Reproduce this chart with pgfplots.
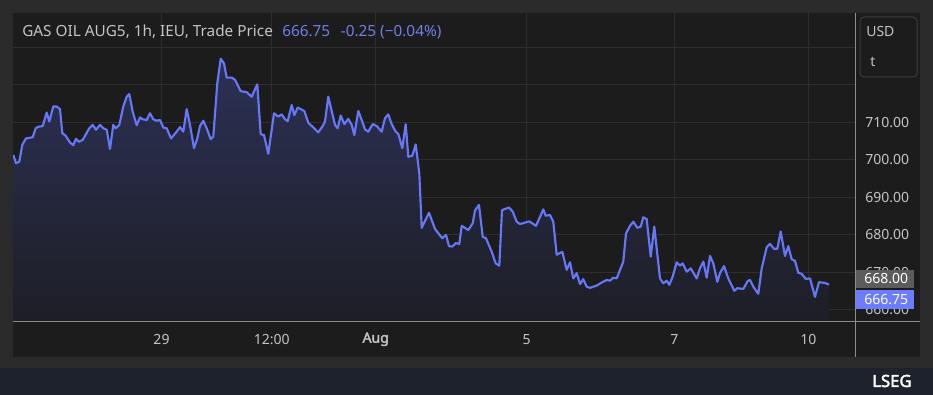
\documentclass[border=0pt]{standalone}
\usepackage{pgfplots}
\pgfplotsset{compat=1.18}
\usepackage{pgfplotstable}
\usetikzlibrary{calc}
\usepackage{fontspec}
\setmainfont{Noto Sans}[AutoFakeBold=2.5]
\definecolor{outerbg}{HTML}{2A2A2A}
\definecolor{panelbg}{HTML}{1C1C1C}
\definecolor{barbg}{HTML}{1E222D}
\definecolor{gridc}{HTML}{2E2E2E}
\definecolor{axisc}{HTML}{8C8C8C}
\definecolor{linec}{HTML}{6677F8}
\definecolor{txt}{HTML}{C4C4C4}
\definecolor{bluetxt}{HTML}{6F7FE8}
\definecolor{fillt}{HTML}{2C3156}
\definecolor{fillb}{HTML}{1D1E25}
\definecolor{graybox}{HTML}{5C5C5C}
\definecolor{bluebox}{HTML}{6B7CFF}
\definecolor{boxborder}{HTML}{3C3C3C}
\pgfdeclarelayer{bg}
\pgfsetlayers{bg,main}

\pgfplotstableread{
x y
13.3 701.3
16.0 699.1
19.3 699.5
22.3 704.0
26.0 705.7
32.7 706.0
35.7 708.4
38.3 708.8
42.7 709.0
46.7 712.6
49.3 710.2
53.3 714.2
56.7 714.2
60.0 713.5
62.3 707.1
65.7 706.4
70.0 704.6
73.3 703.9
76.0 705.6
79.0 704.8
82.7 705.3
89.3 708.4
92.7 709.3
96.0 708.0
100.0 709.3
103.3 708.4
106.7 708.0
110.0 702.9
113.3 709.3
115.7 708.4
119.3 709.3
123.3 714.2
126.7 716.8
129.3 717.5
132.7 712.8
136.7 709.2
140.0 711.3
142.7 710.8
146.7 710.6
150.0 712.4
153.3 710.8
156.7 710.4
160.0 710.6
163.3 708.6
166.7 708.4
171.0 705.7
176.7 707.5
180.0 708.7
183.3 707.5
186.7 713.5
190.0 709.3
194.0 703.1
197.3 705.7
200.0 709.0
203.3 710.4
206.7 708.4
210.7 705.5
213.3 706.2
217.3 720.4
220.7 726.9
224.0 725.7
226.7 721.9
231.7 721.9
235.0 721.3
240.7 718.3
246.7 718.0
251.7 716.8
254.0 718.2
257.3 720.1
260.7 706.8
264.0 706.6
268.3 701.6
274.0 712.4
278.3 711.5
281.7 712.1
285.0 710.8
287.7 710.3
291.7 714.6
294.3 711.9
297.7 713.9
304.3 713.0
308.3 709.9
318.3 707.3
322.7 709.0
325.0 710.2
328.3 716.8
335.0 709.3
337.7 708.4
340.7 711.8
344.3 709.5
348.3 710.9
351.7 709.3
354.3 706.6
358.3 713.0
361.7 710.6
365.0 708.1
368.3 707.5
372.7 709.5
376.7 709.0
381.7 707.5
385.0 711.1
388.3 712.1
391.7 709.5
395.7 707.5
398.3 706.9
402.3 703.1
405.7 709.5
408.3 700.8
412.3 701.1
415.7 704.1
419.3 696.4
421.7 681.9
429.0 685.9
435.0 681.6
439.0 680.2
442.3 679.1
446.0 680.0
449.0 677.0
452.3 676.9
455.7 677.8
459.3 677.6
461.7 682.4
468.3 681.3
472.7 683.1
475.0 686.5
479.0 688.0
482.7 679.5
486.0 679.1
491.7 675.5
495.7 672.4
499.3 671.8
502.0 686.6
509.0 687.3
512.7 686.2
516.7 683.5
520.0 682.9
529.3 683.6
536.0 682.4
543.3 686.8
545.7 685.1
550.0 685.3
553.3 683.5
556.7 674.7
562.3 675.5
566.7 670.7
570.0 672.7
573.3 668.4
576.7 669.8
580.0 666.9
583.3 668.2
586.7 666.2
590.0 665.9
596.7 666.5
601.7 667.3
606.7 668.0
610.0 667.8
613.3 668.6
616.7 668.4
623.3 672.9
626.0 680.4
630.0 682.4
633.3 683.5
637.3 681.9
640.7 682.2
643.3 684.7
646.7 684.2
650.7 674.2
654.3 682.2
660.0 668.4
663.3 667.1
666.7 667.8
669.3 666.7
672.7 668.9
676.7 672.7
680.0 671.8
682.7 672.4
686.7 670.2
690.7 671.1
696.7 668.4
700.0 671.1
703.3 672.9
706.7 668.6
710.0 674.4
713.3 672.4
717.3 667.5
720.0 669.8
724.0 671.7
728.3 668.4
734.3 665.1
737.3 665.8
743.3 665.6
747.7 667.7
750.0 668.0
753.3 666.2
758.3 664.3
761.7 671.1
766.7 676.7
770.0 677.6
774.0 676.3
777.3 676.3
780.7 680.9
785.0 674.4
788.3 677.0
791.7 673.5
795.0 673.1
798.3 669.9
801.7 669.6
805.7 668.3
810.0 668.4
815.0 663.5
819.0 667.4
825.0 667.2
829.0 666.75
}\gasoil

\begin{document}
\begin{tikzpicture}
\begin{axis}[
  scale only axis, width=631.5pt, height=231.75pt,
  xmin=13, xmax=855, ymin=656.8, ymax=739.1,
  axis line style={draw=none},
  tick style={draw=none},
  major tick length=0pt,
  grid=major,
  grid style={gridc, line width=0.75pt},
  xtick={161.5,271.7,375.7,526.7,674.3,808.3},
  xticklabels={29,12:00,{\bfseries Aug},5,7,10},
  ytick={660,670,680,690,700,710,720,730},
  yticklabels={660.00,670.00,680.00,690.00,700.00,710.00,,},
  yticklabel pos=right,
  ticklabel style={font=\fontsize{10.5}{12}\selectfont, text=txt},
  xticklabel style={anchor=center, inner sep=0pt, yshift=-13pt},
  yticklabel style={anchor=west, inner sep=0pt, xshift=7.5pt},
  clip=true,
]
\coordinate (o) at (rel axis cs:0,0);
\addplot[draw=none, top color=fillt, bottom color=fillb]
  table[x=x, y=y]{\gasoil} -- (axis cs:829,656.8) -- (axis cs:13.3,656.8) -- cycle;
\addplot[linec, line width=1.6pt, line join=round, mark=none] table[x=x, y=y]{\gasoil};
\end{axis}
\begin{scope}[shift={(o)}, x=0.75pt, y=0.75pt, shift={(-13,-73)}]
\begin{pgfonlayer}{bg}
\fill[outerbg] (0,0) rectangle (933,395);
\fill[panelbg] (13,38) rectangle (920,382);
\fill[barbg] (0,0) rectangle (933,27);
\end{pgfonlayer}
\draw[axisc, line width=0.75pt] (13,73) -- (920,73);
\draw[axisc, line width=0.75pt] (855,382) -- (855,38);
% price boxes
\fill[graybox] (856,107) rectangle (914,125);
\node[text=white, font=\fontsize{10.5}{12}\selectfont, anchor=west, inner sep=0pt] at (864,116) {668.00};
\fill[bluebox] (856,86) rectangle (914,105);
\node[text=white, font=\fontsize{10.5}{12}\selectfont, anchor=west, inner sep=0pt] at (864,95.5) {666.75};
% USD box
\draw[boxborder, fill=panelbg, rounded corners=3pt, line width=0.75pt] (860,318) rectangle (917,378);
\node[text=txt, font=\fontsize{10.5}{12}\selectfont, anchor=west, inner sep=0pt] at (866,363) {USD};
\node[text=txt, font=\fontsize{10.5}{12}\selectfont, anchor=west, inner sep=0pt] at (870,333) {t};
% title
\node[text=txt, font=\fontsize{11.5}{13}\selectfont, anchor=west, inner sep=0pt] at (22,363) {GAS OIL AUG5, 1h, IEU, Trade Price};
\node[text=bluetxt, font=\fontsize{11.5}{13}\selectfont, anchor=west, inner sep=0pt] at (282,363) {666.75\hspace{8pt}-0.25 (−0.04\%)};
% logo
\node[text=white, font=\fontsize{12.5}{14}\selectfont\bfseries, anchor=west, inner sep=0pt] at (872,14) {LSEG};
\end{scope}
\end{tikzpicture}
\end{document}
